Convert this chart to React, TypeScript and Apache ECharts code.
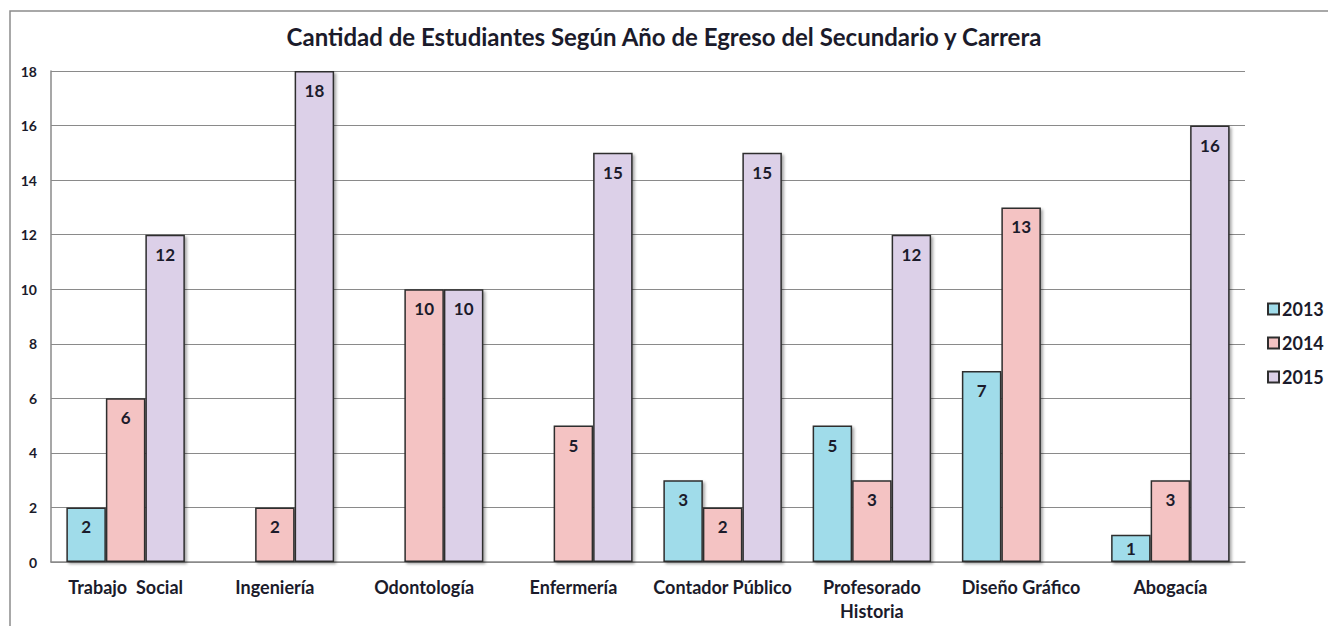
import React, { useEffect, useRef } from "react";
import * as echarts from "echarts";

const categories = [
  "Trabajo  Social",
  "Ingeniería",
  "Odontología",
  "Enfermería",
  "Contador Público",
  "Profesorado\nHistoria",
  "Diseño Gráfico",
  "Abogacía",
];
const years = ["2013", "2014", "2015"];
const values2013 = [2, null, null, null, 3, 5, 7, 1];
const values2014 = [6, 2, 10, 5, 2, 3, 13, 3];
const values2015 = [12, 18, 10, 15, 15, 12, null, 16];
const colors = ["#A0DCEA", "#F4C3C3", "#DCD0E8"];
const title = "Cantidad de Estudiantes Según Año de Egreso del Secundario y Carrera";

const FONT = "Lato, 'Noto Sans', sans-serif";
const TEXT = "#1b1b2b";

export default function App() {
  const ref = useRef<HTMLDivElement>(null);
  useEffect(() => {
    document.body.style.margin = "0";
    const chart = echarts.init(ref.current!, null, { renderer: "svg" });
    const data = [values2013, values2014, values2015];
    chart.setOption({
      animation: false,
      backgroundColor: "#ffffff",
      textStyle: { fontFamily: FONT },
      title: {
        text: title,
        left: "center",
        top: 19,
        textStyle: { fontFamily: FONT, fontSize: 24, fontWeight: "bold", color: TEXT },
      },
      graphic: [
        {
          type: "rect",
          shape: { x: 10, y: 11, width: 1340, height: 640 },
          style: { fill: "none", stroke: "#8c8c8c", lineWidth: 1.5 },
          silent: true,
        },
      ],
      legend: {
        orient: "vertical",
        left: 1262,
        top: 294,
        itemGap: 14,
        itemWidth: 11,
        itemHeight: 11,
        icon: "rect",
        data: years,
        textStyle: {
          fontFamily: FONT,
          fontSize: 18,
          lineHeight: 20,
          fontWeight: "bold",
          color: TEXT,
          padding: [0, 0, 0, -2],
        },
      },
      grid: { left: 51, right: 83, top: 71, bottom: 64, containLabel: false },
      xAxis: {
        type: "category",
        data: categories,
        axisLine: { show: true, lineStyle: { color: "#8a8a8a", width: 1.5 } },
        axisTick: { show: false },
        axisLabel: {
          interval: 0,
          margin: 13,
          fontFamily: FONT,
          fontSize: 18,
          fontWeight: "bold",
          color: TEXT,
          lineHeight: 24,
        },
      },
      yAxis: {
        type: "value",
        min: 0,
        max: 18,
        interval: 2,
        axisLine: { show: true, lineStyle: { color: "#8a8a8a", width: 1.5 } },
        axisTick: { show: false },
        splitLine: { show: true, lineStyle: { color: "#8a8a8a", width: 1.2 } },
        axisLabel: {
          margin: 14,
          fontFamily: FONT,
          fontSize: 14,
          fontWeight: "bold",
          color: TEXT,
        },
      },
      series: years.map((y, i) => ({
        name: y,
        type: "bar",
        data: data[i].map((v) =>
          v !== null && v <= 1 ? { value: v, label: { position: "inside" } } : v
        ),
        barGap: "0%",
        barCategoryGap: "20.6%",
        itemStyle: {
          color: colors[i],
          borderColor: "#2e2e2e",
          borderWidth: 1.5,
          shadowBlur: 3,
          shadowOffsetX: 2,
          shadowOffsetY: 2,
          shadowColor: "rgba(0,0,0,0.35)",
        },
        label: {
          show: true,
          position: "insideTop",
          distance: 11,
          fontFamily: FONT,
          fontSize: 17,
          fontWeight: "bold",
          color: TEXT,
        },
      })),
    });
    return () => chart.dispose();
  }, []);
  return <div ref={ref} style={{ width: 1328, height: 626 }} />;
}
